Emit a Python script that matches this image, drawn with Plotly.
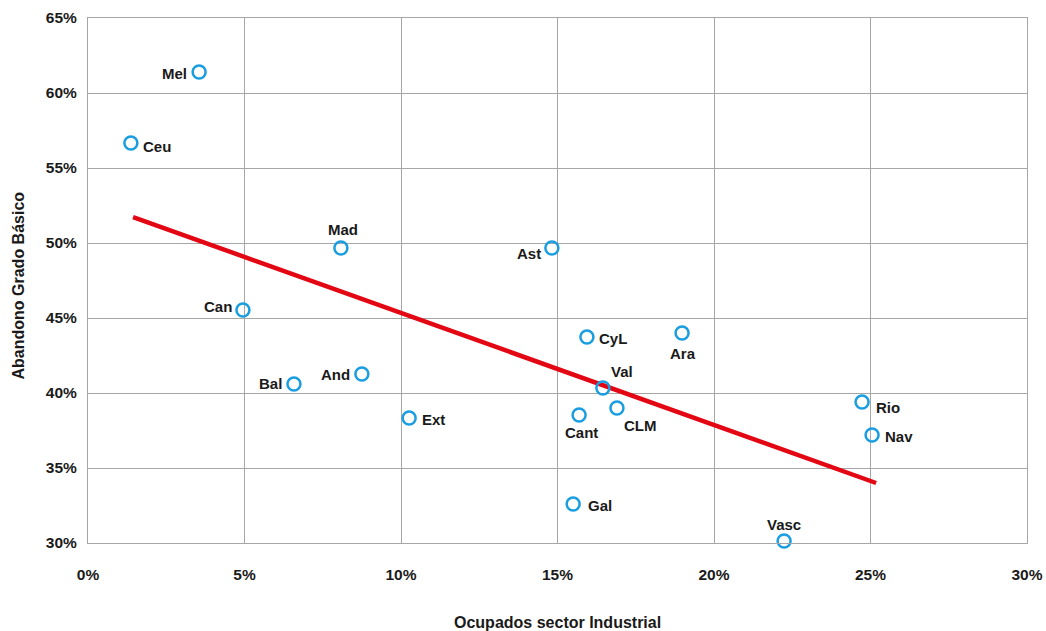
import plotly.graph_objects as go

regions = ["Mel", "Ceu", "Mad", "Ast", "Can", "CyL", "Ara", "Val", "Bal", "And",
           "Ext", "Cant", "CLM", "Rio", "Nav", "Gal", "Vasc"]
ocupados_industria = [3.55, 1.37, 8.08, 14.82, 4.95, 15.94, 18.98, 16.45, 6.58, 8.75,
                      10.26, 15.69, 16.90, 24.73, 25.05, 15.50, 22.24]
abandono_basico = [61.4, 56.67, 49.67, 49.67, 45.53, 43.73, 44.0, 40.33, 40.6, 41.27,
                   38.33, 38.53, 39.0, 39.4, 37.2, 32.6, 30.13]
trend_x = [1.44, 25.18]
trend_y = [51.73, 34.0]
x_ticks = [0, 5, 10, 15, 20, 25, 30]
y_ticks = [30, 35, 40, 45, 50, 55, 60, 65]

# label placement (style): anchor, x shift px, y shift px (positive = up)
label_style = {
    "Mel": ("right", -10, -1), "Ceu": ("left", 10, -4), "Mad": ("center", 2, 18),
    "Ast": ("right", -9, -6), "Can": ("right", -9, 4), "CyL": ("left", 10, -1),
    "Ara": ("center", 1, -20), "Val": ("left", 6, 17), "Bal": ("right", -10, 1),
    "And": ("right", -10, -1), "Ext": ("left", 11, -1), "Cant": ("center", 2, -17),
    "CLM": ("left", 5, -17), "Rio": ("left", 12, -5), "Nav": ("left", 11, -1),
    "Gal": ("left", 13, -1), "Vasc": ("center", 0, 17),
}

FONT = "Liberation Sans, Arial, sans-serif"
TXT = "#1a1a1a"

fig = go.Figure()
fig.add_trace(go.Scatter(
    x=trend_x, y=trend_y, mode="lines",
    line=dict(color="#e30613", width=4.5),
    hoverinfo="skip", showlegend=False, cliponaxis=False,
))
fig.add_trace(go.Scatter(
    x=ocupados_industria, y=abandono_basico, mode="markers",
    marker=dict(symbol="circle-open", size=13, color="#1a9ee0", line=dict(width=2.5, color="#1a9ee0")),
    showlegend=False, cliponaxis=False,
))

annotations = []
for r, xv, yv in zip(regions, ocupados_industria, abandono_basico):
    anchor, dx, dy = label_style[r]
    annotations.append(dict(
        text=f"<b>{r}</b>", x=xv, y=yv, xref="x", yref="y", showarrow=False,
        xanchor=anchor, yanchor="middle", xshift=dx, yshift=dy,
        font=dict(family=FONT, size=15, color=TXT),
    ))

annotations += [
    dict(text="<b>Ocupados sector Industrial</b>", xref="paper", yref="paper",
         x=0.5, y=0, yshift=-79, xanchor="center", yanchor="middle", showarrow=False,
         font=dict(family=FONT, size=16, color=TXT)),
    dict(text="<b>Abandono Grado Básico</b>", xref="paper", yref="paper",
         x=0, y=0.5, xshift=-70, yshift=-5, xanchor="center", yanchor="middle", showarrow=False,
         textangle=-90, font=dict(family=FONT, size=16, color=TXT)),
]

fig.update_layout(
    width=1046, height=631,
    margin=dict(l=88, r=19, t=18, b=88, autoexpand=False),
    plot_bgcolor="white", paper_bgcolor="white",
    font=dict(family=FONT, size=15, color=TXT),
    xaxis=dict(
        range=[0, 30], tickvals=x_ticks, ticktext=[f"{v}%" for v in x_ticks],
        showgrid=True, gridcolor="#a6a6a6", gridwidth=1,
        showline=True, linecolor="#a6a6a6", linewidth=1, mirror=True,
        zeroline=False, ticks="", ticklabelstandoff=17, automargin=False,
        tickfont=dict(family=FONT, size=15.5, weight="bold"),
    ),
    yaxis=dict(
        range=[30, 65], tickvals=y_ticks, ticktext=[f"{v}%" for v in y_ticks],
        showgrid=True, gridcolor="#a6a6a6", gridwidth=1,
        showline=True, linecolor="#a6a6a6", linewidth=1, mirror=True,
        zeroline=False, ticks="", ticklabelstandoff=7, automargin=False,
        tickfont=dict(family=FONT, size=15.5, weight="bold"),
    ),
    annotations=annotations,
)

fig.write_html(
    "out.html",
    config={"displayModeBar": False},
    post_script="document.body.style.margin='0';document.body.style.overflow='hidden';",
)
